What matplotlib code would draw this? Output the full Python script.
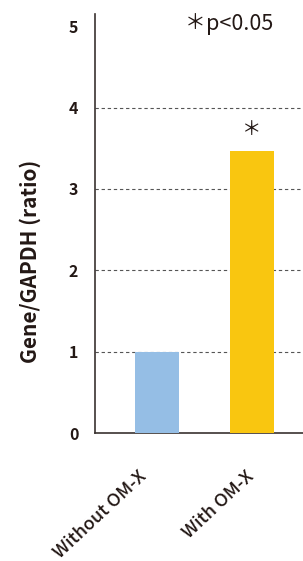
import matplotlib
matplotlib.use("Agg")
import matplotlib.pyplot as plt
from matplotlib.transforms import ScaledTranslation

# データ
groups = ["Without OM-X", "With OM-X"]
ratios = [1.0, 3.47]
bar_colors = ["#95bee5", "#f9c610"]
sig_marks = ["", "＊"]
y_ticks = [0, 1, 2, 3, 4, 5]
grid_levels = [1, 2, 3, 4]

TEXT = "#231815"
plt.rcParams["font.family"] = ["Noto Sans CJK JP", "DejaVu Sans"]

fig = plt.figure(figsize=(3.03, 5.61), dpi=100)
ax = fig.add_axes([0.3135, 0.228, 0.6865, 0.747])

x = range(len(groups))
ax.bar(x, ratios, width=0.463, color=bar_colors, zorder=3)

for lvl in grid_levels:
    ax.axhline(lvl, color="#555555", lw=0.8, ls=(0, (3, 2.5)), zorder=1)

for i, (v, m) in enumerate(zip(ratios, sig_marks)):
    if m:
        ax.text(i, v + 0.26, m, ha="center", va="center", fontsize=14,
                color=TEXT)

ax.text(0.481, 0.978, "＊", transform=ax.transAxes, ha="center", va="center",
        fontsize=15, color=TEXT)
ax.text(0.535, 0.976, "p<0.05", transform=ax.transAxes, ha="left", va="center",
        fontsize=15.5, color=TEXT)

ax.set_xlim(-0.653, 1.537)
ax.set_ylim(0, 5.15)
ax.set_yticks(y_ticks)
ax.set_yticklabels([str(t) for t in y_ticks], fontsize=11.5,
                   fontweight="bold", color=TEXT)
ax.set_xticks(list(x))
ax.set_xticklabels(groups, rotation=43, ha="right", va="baseline",
                   rotation_mode="anchor", fontsize=13, fontweight="medium",
                   color=TEXT)
ax.tick_params(axis="both", length=0)
ax.tick_params(axis="y", pad=12)
ax.tick_params(axis="x", pad=32)

# ラベルごとの横ずれ (px)
for lab, dx in zip(ax.get_xticklabels(), [-10, 3]):
    lab.set_transform(lab.get_transform() + ScaledTranslation(dx / 100, 0, fig.dpi_scale_trans))

ax.set_ylabel("Gene/GAPDH (ratio)", fontsize=15, fontweight="bold",
              color=TEXT, va="center")
ax.yaxis.set_label_coords(-0.3125, 0.41)

for s in ["top", "right"]:
    ax.spines[s].set_visible(False)
for s in ["left", "bottom"]:
    ax.spines[s].set_color("#3a3230")
    ax.spines[s].set_linewidth(1.2)

fig.savefig("out.png", dpi=100)
